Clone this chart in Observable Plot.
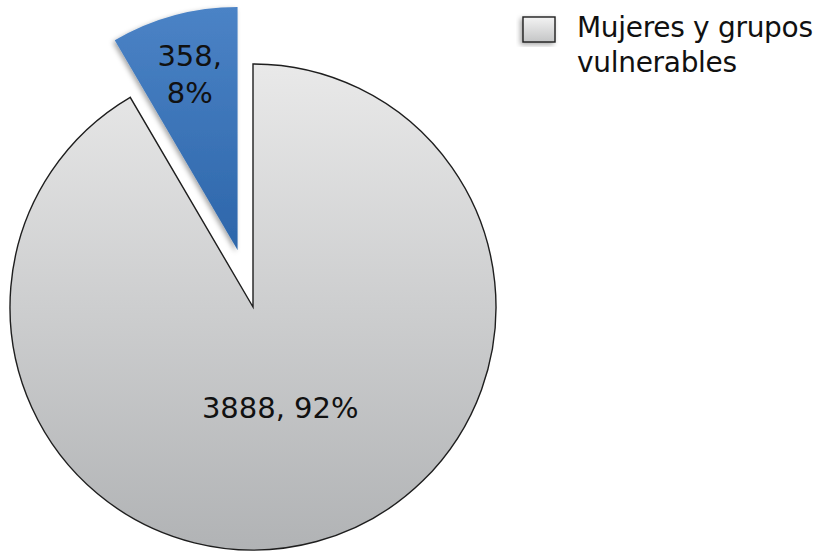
<!DOCTYPE html>
<html><head><meta charset="utf-8">
<script src="https://cdn.jsdelivr.net/npm/d3@7"></script>
<script src="https://cdn.jsdelivr.net/npm/@observablehq/plot@0.6"></script>
<style>body{margin:0;background:#fff;} #chart svg{display:block;}</style>
</head><body><div id="chart"></div>
<script>
// Data
const categories = ["Mujeres y grupos vulnerables", "Otros"];
const values = [3888, 358];
const legendLabels = ["Mujeres y grupos", "vulnerables"];

const W = 820, H = 554;
const R = 243, CX = 253, CY = 307;           // layout (pixels)
const explode = [0, 0.243];                   // offset, in radius units
const labelRadius = [0.42, 0.76];
const labelSep = [", ", ",\n"];
const gradTop = ["#e9e9e9", "#4b83c6"];
const gradBot = ["#b1b3b5", "#2d66aa"];

const total = d3.sum(values);
const pie = d3.pie().sort(null).value(d => d.value)(
  categories.map((c, i) => ({category: c, value: values[i], i}))
);
const labels = pie.map((a, i) => {
  const mid = (a.startAngle + a.endAngle) / 2;
  const rr = explode[i] + labelRadius[i];
  return {
    x: Math.sin(mid) * rr,
    y: Math.cos(mid) * rr,
    text: `${values[i]}${labelSep[i]}${Math.round(values[i] / total * 100)}%`
  };
});

const pieMark = (index, scales) => {
  const {x, y} = scales;
  const cx = x(0), cy = y(0), r = x(1) - x(0);
  const g = d3.create("svg:g");
  const defs = g.append("defs");
  pie.forEach((a, i) => {
    const lg = defs.append("linearGradient").attr("id", "grad" + i)
      .attr("x1", 0).attr("y1", 0).attr("x2", 0).attr("y2", 1);
    lg.append("stop").attr("offset", 0).attr("stop-color", gradTop[i]);
    lg.append("stop").attr("offset", 1).attr("stop-color", gradBot[i]);
  });
  const lg = defs.append("linearGradient").attr("id", "gradLeg")
    .attr("x1", 0).attr("y1", 0).attr("x2", 0).attr("y2", 1);
  lg.append("stop").attr("offset", 0).attr("stop-color", "#f3f3f3");
  lg.append("stop").attr("offset", 1).attr("stop-color", "#c4c5c6");
  const f = defs.append("filter").attr("id", "shadow")
    .attr("x", "-20%").attr("y", "-20%").attr("width", "140%").attr("height", "140%");
  f.append("feDropShadow").attr("dx", -2).attr("dy", 2).attr("stdDeviation", 2.5)
    .attr("flood-color", "#000").attr("flood-opacity", 0.35);
  const arc = d3.arc().innerRadius(0).outerRadius(r);
  pie.forEach((a, i) => {
    const mid = (a.startAngle + a.endAngle) / 2;
    const off = explode[i] * r;
    const tx = cx + Math.sin(mid) * off, ty = cy - Math.cos(mid) * off;
    const p = g.append("path")
      .attr("transform", `translate(${tx},${ty})`)
      .attr("d", arc(a))
      .attr("fill", `url(#grad${i})`);
    if (i === 0) p.attr("stroke", "#1e1e1e").attr("stroke-width", 1.4).attr("stroke-linejoin", "miter");
    else p.attr("filter", "url(#shadow)");
  });
  // legend
  g.append("rect").attr("x", 523).attr("y", 17).attr("width", 32).attr("height", 25)
    .attr("fill", "url(#gradLeg)").attr("stroke", "#1e1e1e").attr("stroke-width", 1.4)
    .attr("filter", "url(#shadow)");
  legendLabels.forEach((t, k) => {
    g.append("text").attr("x", 577).attr("y", 37 + k * 35)
      .attr("text-anchor", "start")
      .attr("font-family", "DejaVu Sans").attr("font-size", 28).attr("fill", "#111")
      .attr("letter-spacing", -0.3)
      .text(t);
  });
  return g.node();
};

const chart = Plot.plot({
  width: W, height: H,
  margin: 0,
  x: {domain: [-CX / R, (W - CX) / R], axis: null},
  y: {domain: [-(H - CY) / R, CY / R], axis: null},
  marks: [
    pieMark,
    Plot.text(labels, {
      x: "x", y: "y", text: "text",
      fontSize: 29, fontFamily: "DejaVu Sans", fill: "#111",
      lineHeight: 1.28, textAnchor: "middle", lineAnchor: "middle"
    })
  ]
});
document.getElementById("chart").appendChild(chart);
</script>
</body></html>
